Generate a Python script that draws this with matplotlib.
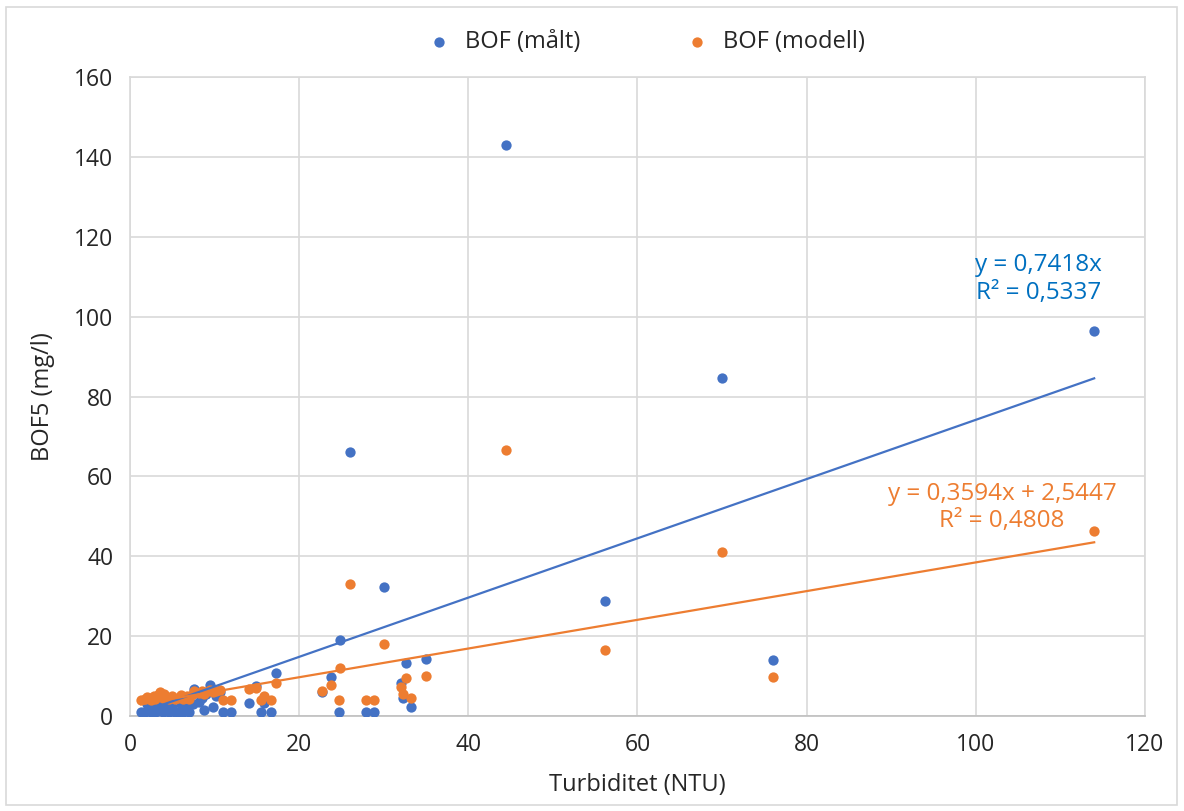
import numpy as np
import matplotlib.pyplot as plt
from matplotlib.patches import Rectangle

plt.rcParams['font.family'] = ['Open Sans', 'DejaVu Sans']

# Turbiditet (NTU) and BOF5 (mg/l)
turb = [44.5, 70.0, 114.0, 26.0, 30.0, 56.2, 76.0, 24.8, 35.0, 32.6,
        17.3, 23.8, 32.0, 22.7, 32.3, 33.2, 24.7, 27.9, 28.8, 16.7,
        15.5, 11.0, 12.0, 14.1, 15.8, 14.9,
        1.3, 1.8, 2.2, 2.5, 2.8, 3.0, 3.3, 3.6, 3.9, 4.2,
        4.6, 5.0, 5.3, 5.7, 6.0, 6.3, 6.7, 7.0, 7.5, 7.6,
        8.2, 8.8, 9.4, 9.8, 10.2, 10.6, 9.0, 8.5, 2.0, 4.0]
bof_malt = [143.0, 84.7, 96.5, 66.0, 32.3, 28.8, 14.0, 19.0, 14.2, 13.3,
            10.7, 9.8, 8.2, 6.0, 4.5, 2.3, 1.1, 1.1, 1.1, 1.1,
            1.1, 1.1, 1.1, 3.2, 3.2, 7.5,
            1.0, 1.0, 1.5, 1.0, 2.0, 1.0, 1.2, 2.5, 1.0, 1.8,
            1.0, 2.2, 1.0, 1.0, 3.0, 1.0, 2.0, 1.0, 3.0, 6.9,
            3.5, 1.5, 7.8, 2.3, 5.0, 6.0, 5.5, 4.5, 3.0, 3.5]
bof_modell = [66.7, 41.0, 46.3, 33.0, 18.0, 16.5, 9.9, 12.0, 10.0, 9.5,
              8.3, 7.9, 7.3, 6.3, 5.5, 4.6, 4.0, 4.0, 4.0, 4.0,
              4.0, 4.0, 4.0, 6.9, 5.0, 7.1,
              4.0, 4.2, 4.5, 4.0, 5.0, 4.3, 5.2, 6.0, 4.5, 4.8,
              4.2, 5.0, 4.4, 4.6, 5.3, 4.3, 5.0, 4.2, 5.5, 6.3,
              5.8, 5.5, 6.5, 6.0, 6.2, 6.5, 6.0, 6.2, 4.8, 5.5]

slope_malt = 0.7418
slope_mod, icpt_mod = 0.3594, 2.5447

blue = '#4472C4'
orange = '#ED7D31'

fig = plt.figure(figsize=(11.84, 8.11), dpi=100)
ax = fig.add_axes([0.1098, 0.117, 0.967 - 0.1098, 0.905 - 0.117])

ax.scatter(turb, bof_malt, s=55, color=blue, zorder=3, label='BOF (målt)', linewidths=0)
ax.scatter(turb, bof_modell, s=55, color=orange, zorder=3, label='BOF (modell)', linewidths=0)

# trendlines as given by the equations in the chart
xt = np.array([min(turb), max(turb)])
ax.plot(xt, slope_malt * xt, color=blue, lw=1.6, zorder=4)
ax.plot(xt, slope_mod * xt + icpt_mod, color=orange, lw=1.6, zorder=4)

ax.text(107.4, 109.5, 'y = 0,7418x\nR² = 0,5337', color='#0070C0', fontsize=17.5,
        ha='center', va='center', linespacing=1.2)
ax.text(103.1, 52.2, 'y = 0,3594x + 2,5447\nR² = 0,4808', color=orange, fontsize=17.5,
        ha='center', va='center', linespacing=1.2)

ax.set_xlim(0, 120)
ax.set_ylim(0, 160)
ax.set_xticks(np.arange(0, 121, 20))
ax.set_yticks(np.arange(0, 161, 20))
ax.grid(True, color='#D9D9D9', lw=1.2)
ax.set_axisbelow(True)
for s in ax.spines.values():
    s.set_color('#D9D9D9')
    s.set_linewidth(1.2)
ax.spines['bottom'].set_color('#BFBFBF')
ax.tick_params(length=0, labelsize=16.5, pad=12)
for lab in ax.get_xticklabels() + ax.get_yticklabels():
    lab.set_color('#262626')

ax.set_xlabel('Turbiditet (NTU)', fontsize=17, color='#262626', labelpad=12)
ax.set_ylabel('BOF5 (mg/l)', fontsize=17, color='#262626', labelpad=14)

fig.legend(loc='center', bbox_to_anchor=(0.541, 0.948), ncol=2, frameon=False,
           fontsize=17, handletextpad=0.1, columnspacing=3.95, markerscale=1.0,
           labelcolor='#262626')

fig.patches.append(Rectangle((6 / 1184, 6 / 811), 1 - 13 / 1184, 1 - 13 / 811,
                             transform=fig.transFigure, fill=False,
                             edgecolor='#D9D9D9', lw=1.2))

fig.savefig('out.png', dpi=100)
